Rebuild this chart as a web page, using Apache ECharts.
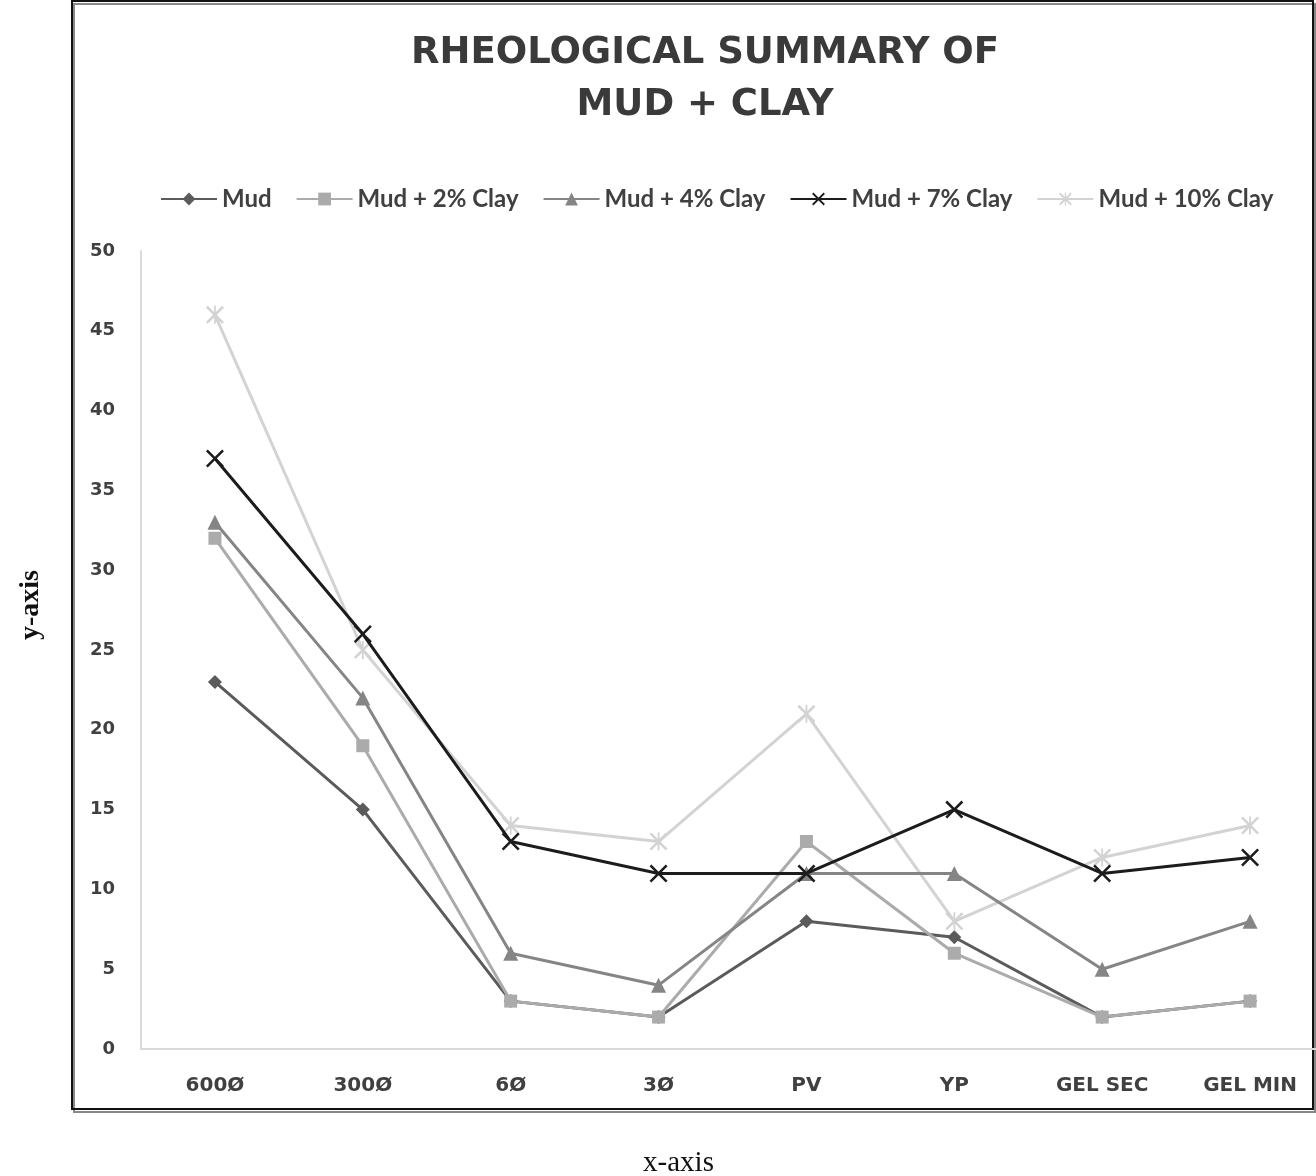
<!DOCTYPE html>
<html><head><meta charset="utf-8">
<script src="https://cdn.jsdelivr.net/npm/echarts@6/dist/echarts.min.js"></script>
<style>html,body{margin:0;padding:0;background:#fff}#c{width:1316px;height:1176px}</style>
</head><body><div id="c"></div>
<script>
const categories = ['600Ø','300Ø','6Ø','3Ø','PV','YP','GEL SEC','GEL MIN'];
const seriesNames = ['Mud','Mud + 2% Clay','Mud + 4% Clay','Mud + 7% Clay','Mud + 10% Clay'];
const mud      = [23, 15, 3, 2, 8, 7, 2, 3];
const clay2    = [32, 19, 3, 2, 13, 6, 2, 3];
const clay4    = [33, 22, 6, 4, 11, 11, 5, 8];
const clay7    = [37, 26, 13, 11, 11, 15, 11, 12];
const clay10   = [46, 25, 14, 13, 21, 8, 12, 14];
const yTicks = [0,5,10,15,20,25,30,35,40,45,50];

const X_PATH = 'path://M0,1L1,0L10,9L9,10Z M9,0L10,1L1,10L0,9Z';
const STAR_PATH = 'path://M0,1L1,0L10,9L9,10Z M9,0L10,1L1,10L0,9Z M4.5,0L5.5,0L5.5,10L4.5,10Z';

const styles = [
  {c:'#5b5b5b', sym:'diamond', size:14, w:3},
  {c:'#ababab', sym:'rect', size:13, w:3},
  {c:'#858585', sym:'triangle', size:15, w:3},
  {c:'#1c1c1c', sym:X_PATH, size:18, w:3},
  {c:'#d3d3d3', sym:STAR_PATH, size:18, w:3}
];
const datas = [mud, clay2, clay4, clay7, clay10];

const chart = echarts.init(document.getElementById('c'));
chart.setOption({
  animation:false,
  backgroundColor:'#fff',
  title:{
    text:'RHEOLOGICAL SUMMARY OF\nMUD + CLAY',
    left:700, top:22, textAlign:'center',
    textStyle:{fontFamily:'DejaVu Sans', fontWeight:'bold', fontSize:37, color:'#3a3a3a', lineHeight:52}
  },
  legend:{
    top:182, left:155, itemWidth:56, itemHeight:16, itemGap:24,
    textStyle:{fontFamily:'Lato', fontWeight:'bold', fontSize:24, color:'#404040'},
    data:seriesNames
  },
  grid:{left:141, top:251, width:1183, height:798, outerBoundsMode:'none', containLabel:false},
  xAxis:{
    type:'category', data:categories, boundaryGap:true,
    axisLine:{lineStyle:{color:'#d9d9d9', width:2}},
    axisTick:{show:false},
    axisLabel:{margin:27, fontFamily:'DejaVu Sans', fontWeight:'bold', fontSize:20, color:'#404040'},
    name:'x-axis', nameLocation:'middle', nameGap:100,
    nameTextStyle:{fontFamily:'Liberation Serif', fontSize:29, color:'#111', padding:[0,108,0,0]}
  },
  yAxis:{
    type:'value', min:0, max:50, interval:5,
    axisLine:{show:true, lineStyle:{color:'#d9d9d9', width:2}},
    axisTick:{show:false},
    splitLine:{show:false},
    axisLabel:{margin:26, fontFamily:'DejaVu Sans', fontWeight:'bold', fontSize:18, color:'#404040'},
    name:'y-axis', nameLocation:'middle', nameGap:96, nameRotate:90,
    nameTextStyle:{fontFamily:'Liberation Serif', fontWeight:'bold', fontSize:28, color:'#111', padding:[0,0,0,90]}
  },
  graphic:[
    {type:'rect', shape:{x:74, y:4, width:1241, height:1108}, style:{fill:'none', stroke:'#888', lineWidth:2}, z:-1, silent:true},
    {type:'rect', shape:{x:72, y:1, width:1241, height:1108}, style:{fill:'none', stroke:'#111', lineWidth:2}, z:-1, silent:true}
  ],
  series: seriesNames.map((n,i)=>({
    name:n, type:'line', data:datas[i],
    symbol:styles[i].sym, symbolSize:styles[i].size, showSymbol:true,
    lineStyle:{color:styles[i].c, width:styles[i].w},
    itemStyle:{color:styles[i].c},
    z: [2,2,2,3,1][i]
  }))
});
</script></body></html>
